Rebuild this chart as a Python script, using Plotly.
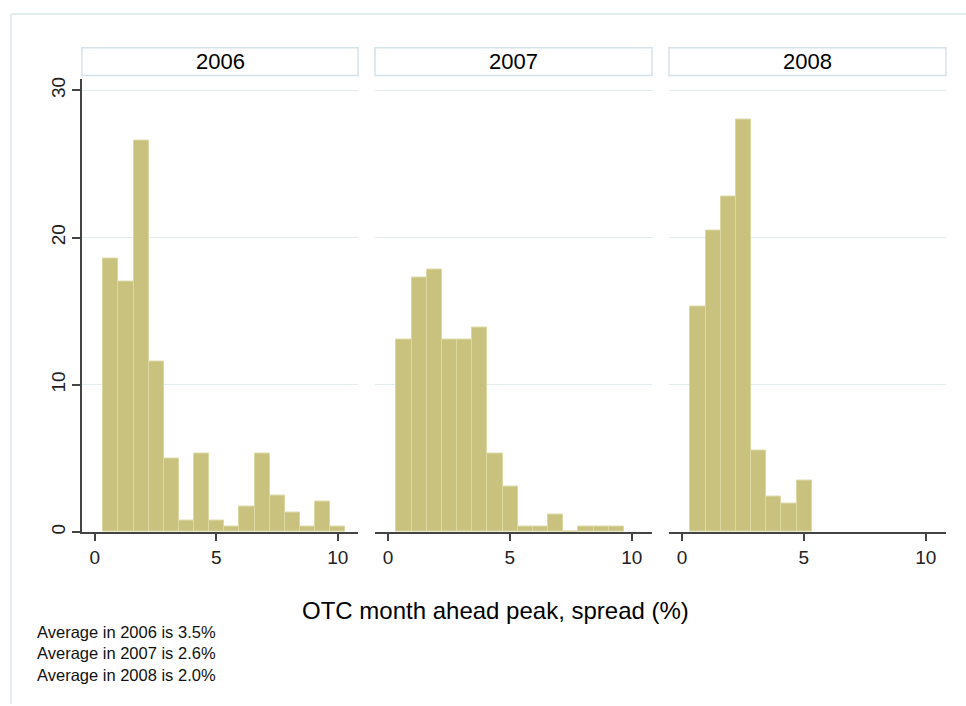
import plotly.graph_objects as go

# Histogram of OTC month-ahead peak spreads, one panel per year (percent of observations)
YEARS = ["2006", "2007", "2008"]
BIN_START = 0.35
BIN_WIDTH = 0.622
PCT_2006 = [18.6, 17.0, 26.6, 11.6, 5.0, 0.8, 5.3, 0.8, 0.4, 1.7, 5.3, 2.5, 1.3, 0.4, 2.1, 0.4]
PCT_2007 = [13.1, 17.3, 17.8, 13.1, 13.1, 13.9, 5.3, 3.1, 0.4, 0.4, 1.2, 0.0, 0.4, 0.4, 0.4]
PCT_2008 = [15.3, 20.5, 22.8, 28.0, 5.5, 2.4, 1.9, 3.5]
AVERAGES = ["3.5%", "2.6%", "2.0%"]
X_TICKS = [0, 5, 10]
Y_TICKS = [0, 10, 20, 30]
X_TITLE = "OTC month ahead peak, spread (%)"

W, H = 966, 706
FONT = "Liberation Sans, Arial, sans-serif"
BAR_FILL = "#C9C27F"
BAR_EDGE = "#DCD8A2"
GRID = "#E3EDF0"
AXIS = "#444444"
FRAME = "#E3EDF0"


def px_x(v):
    return v / W


def px_y(v):
    return 1 - v / H


panels = [(82, 358), (375, 652), (669, 946)]
y_dom = [px_y(533), px_y(77)]

fig = go.Figure()
series = [PCT_2006, PCT_2007, PCT_2008]
for k, vals in enumerate(series):
    centers = [BIN_START + (i + 0.5) * BIN_WIDTH for i in range(len(vals))]
    sfx = "" if k == 0 else str(k + 1)
    fig.add_trace(go.Bar(
        x=centers, y=vals, width=BIN_WIDTH,
        marker=dict(color=BAR_FILL, line=dict(color=BAR_EDGE, width=1)),
        xaxis="x" + sfx, yaxis="y" + sfx, showlegend=False,
        hoverinfo="x+y",
    ))

layout = dict(
    width=W, height=H,
    margin=dict(l=0, r=0, t=0, b=0),
    paper_bgcolor="white", plot_bgcolor="white",
    font=dict(family=FONT, color="#111111"),
    bargap=0,
    shapes=[], annotations=[],
)

for k, (x0, x1) in enumerate(panels):
    sfx = "" if k == 0 else str(k + 1)
    layout["xaxis" + sfx] = dict(
        domain=[px_x(x0), px_x(x1)], range=[-0.53, 10.83],
        anchor="y" + sfx, tickvals=X_TICKS, ticks="outside", ticklen=7,
        tickcolor=AXIS, tickwidth=1.5, showline=True, linecolor=AXIS, linewidth=1.5,
        showgrid=False, zeroline=False, tickfont=dict(size=19, family=FONT, color="#222"),
        fixedrange=True,
    )
    ydict = dict(
        domain=y_dom, range=[0, 30.8], anchor="x" + sfx,
        tickvals=Y_TICKS, showgrid=True, gridcolor=GRID, gridwidth=1,
        zeroline=False, fixedrange=True,
    )
    if k == 0:
        ydict.update(
            showline=True, linecolor=AXIS, linewidth=1.5, ticks="outside", ticklen=8,
            tickcolor=AXIS, tickwidth=1.5, tickangle=-90,
            tickfont=dict(size=19, family=FONT, color="#222"),
        )
    else:
        ydict.update(showline=False, showticklabels=False, ticks="")
    layout["yaxis" + sfx] = ydict

    # year strip above each panel
    layout["shapes"].append(dict(
        type="rect", xref="paper", yref="paper",
        x0=px_x(x0), x1=px_x(x1), y0=px_y(74), y1=px_y(46),
        line=dict(color="#D5E3E9", width=1.5), fillcolor="white", layer="above",
    ))
    layout["annotations"].append(dict(
        xref="paper", yref="paper", x=px_x((x0 + x1) / 2), y=px_y(60),
        text=YEARS[k], showarrow=False, xanchor="center", yanchor="middle",
        font=dict(size=22, family=FONT, color="#000"),
    ))

# x axis line extends slightly past the y axis on the first panel
layout["shapes"].append(dict(
    type="line", xref="paper", yref="paper",
    x0=px_x(73), x1=px_x(82), y0=px_y(533), y1=px_y(533),
    line=dict(color=AXIS, width=1.5),
))

# outer frame (top and left edges)
layout["shapes"].append(dict(
    type="line", xref="paper", yref="paper",
    x0=px_x(11), x1=1, y0=px_y(12), y1=px_y(12),
    line=dict(color=FRAME, width=2),
))
layout["shapes"].append(dict(
    type="line", xref="paper", yref="paper",
    x0=px_x(11), x1=px_x(11), y0=px_y(12), y1=0,
    line=dict(color=FRAME, width=2),
))

layout["annotations"].append(dict(
    xref="paper", yref="paper", x=px_x(495), y=px_y(612),
    text=X_TITLE, showarrow=False, xanchor="center", yanchor="middle",
    font=dict(size=24, family=FONT, color="#000"),
))

# averages printed as a single note block under the panels
note = "<br>".join(f"Average in {yr} is {avg}" for yr, avg in zip(YEARS, AVERAGES))
layout["annotations"].append(dict(
    xref="paper", yref="paper", x=px_x(36), y=px_y(624),
    text=note, showarrow=False, align="left",
    xanchor="left", yanchor="top", borderpad=0,
    font=dict(size=16.5, family=FONT, color="#111"),
))

fig.update_layout(**layout)
fig.write_html("out.html")
